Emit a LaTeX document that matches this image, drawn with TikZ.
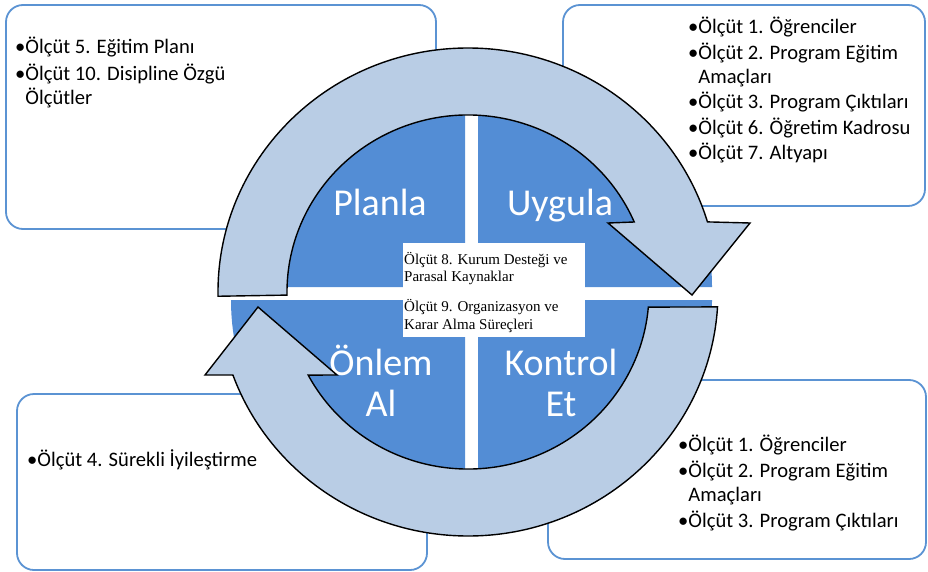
\documentclass[tikz,border=0pt]{standalone}
\usepackage{fontspec}
\setmainfont{Carlito}
\newfontfamily\timesfont{Liberation Serif}
\definecolor{boxblue}{HTML}{5B93D3}
\definecolor{quadblue}{HTML}{538DD5}
\definecolor{ringblue}{HTML}{B9CDE5}
\begin{document}
\begin{tikzpicture}[x=1pt,y=-1pt,
  infobox/.style={draw=boxblue,line width=1.8pt,fill=white,rounded corners=17pt},
  quad/.style={fill=quadblue},
  ringarrow/.style={fill=ringblue,draw=black,line width=1.4pt,line join=miter},
  biglabel/.style={text=white,font=\fontsize{38}{41}\selectfont,align=center,anchor=base,inner sep=0pt},
  bullets/.style={font=\fontsize{20.6}{24}\selectfont,align=left,anchor=base west,inner sep=0pt},
  centertext/.style={font=\timesfont\fontsize{15}{17.5}\selectfont,align=left,anchor=base west,inner sep=0pt}]
\useasboundingbox (0,0) rectangle (928,572);
% info boxes
\draw[infobox] (6,5) rectangle (436,229);
\draw[infobox] (563,5) rectangle (925,206);
\draw[infobox] (548,380) rectangle (926,559);
\draw[infobox] (17,394) rectangle (427,570);
% texts (anchor = baseline of the last line)
\node[bullets] (tl) at (15,105) {•Ölçüt 5. Eğitim Planı\\[3pt]•Ölçüt 10. Disipline Özgü\\\hphantom{•}Ölçütler};
\node[bullets] (tr) at (688,160) {•Ölçüt 1. Öğrenciler\\[2pt]•Ölçüt 2. Program Eğitim\\\hphantom{•}Amaçları\\[1.5pt]•Ölçüt 3. Program Çıktıları\\[1.5pt]•Ölçüt 6. Öğretim Kadrosu\\[1.5pt]•Ölçüt 7. Altyapı};
\node[bullets] (br) at (678,527) {•Ölçüt 1. Öğrenciler\\[2pt]•Ölçüt 2. Program Eğitim\\\hphantom{•}Amaçları\\[2pt]•Ölçüt 3. Program Çıktıları};
\node[bullets] (bl) at (27,466) {•Ölçüt 4. Sürekli İyileştirme};
% quadrants
\fill[quad] (465,287) -- ++(-234,0) arc[start angle=180,end angle=270,radius=234] -- cycle;
\fill[quad] (478,287) -- ++(0,-234) arc[start angle=270,end angle=360,radius=234] -- cycle;
\fill[quad] (478,300) -- ++(234,0) arc[start angle=0,end angle=90,radius=234] -- cycle;
\fill[quad] (465,300) -- ++(0,234) arc[start angle=90,end angle=180,radius=234] -- cycle;
% center box
\fill[white] (403,243) rectangle (585,337);
\node[centertext] (ct) at (404,329) {Ölçüt 8. Kurum Desteği ve\\Parasal Kaynaklar\\[12.5pt]Ölçüt 9. Organizasyon ve\\Karar Alma Süreçleri};
% labels
\node[biglabel] (plan) at (380,215) {Planla};
\node[biglabel] (do) at (560,215) {Uygula};
\node[biglabel] (act) at (381,416) {Önlem\\Al};
\node[biglabel] (check) at (561,416) {Kontrol\\Et};
% ring arrows
\draw[ringarrow] ([shift={(468,292)}]179:250 and 244) arc[start angle=179,end angle=343.3,x radius=250,y radius=244]
  -- (750,223) -- (692,295) -- (608,223)
  -- ([shift={(468,292)}]336.7:181 and 177) arc[start angle=336.7,end angle=179,x radius=181,y radius=177] -- cycle;
\draw[ringarrow] ([shift={(468,292)}]3.5:250 and 244) arc[start angle=3.5,end angle=160.1,x radius=250,y radius=244]
  -- (205,375) -- (258,307) -- (337,375)
  -- ([shift={(468,292)}]152:181 and 177) arc[start angle=152,end angle=4.9,x radius=181,y radius=177] -- cycle;
\end{tikzpicture}
\end{document}
